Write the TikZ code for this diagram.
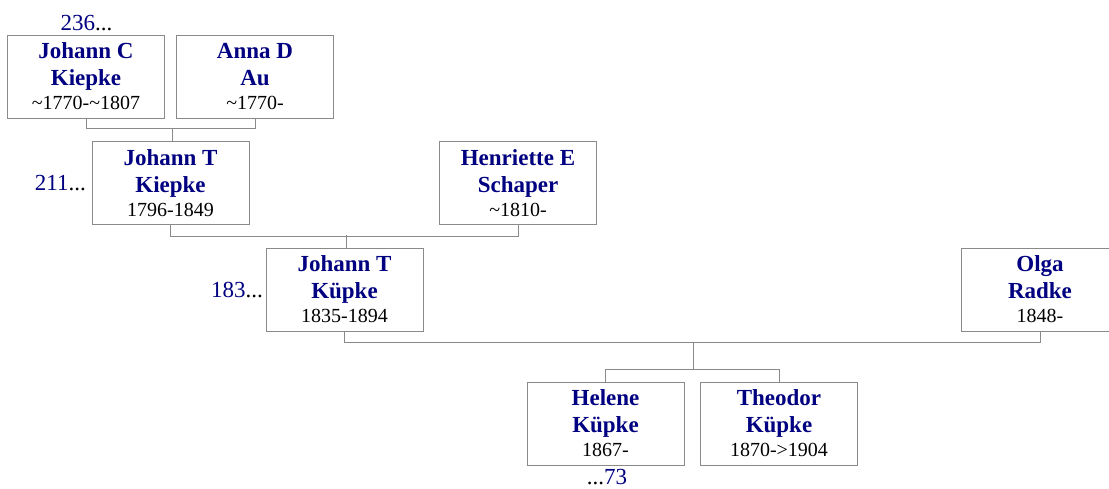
\documentclass[tikz,border=0pt]{standalone}
\usepackage{fontspec}
\usepackage{xcolor}
\usepackage{tikz}
\setmainfont{Liberation Serif}
\definecolor{navy}{HTML}{000080}
\definecolor{boxgray}{HTML}{8A8A8A}
\newcommand{\namefont}{\fontsize{23}{27}\selectfont\bfseries}
\newcommand{\datefont}{\fontsize{20}{24}\selectfont\mdseries}
\newcommand{\person}[3]{\textcolor{navy}{#1}\\\textcolor{navy}{#2}\\[-3pt]{\datefont #3}}
\tikzset{
    person/.style={draw=boxgray, line width=1pt, fill=white, minimum width=157pt, minimum height=83pt, inner sep=0pt, align=center, font=\namefont},
    link/.style={draw=boxgray, line width=1pt},
    refnum/.style={font=\fontsize{23}{27}\selectfont, inner sep=0pt}
}

\begin{document}
\begin{tikzpicture}[x=1pt, y=-1pt]

    \useasboundingbox (0, 0) rectangle (1109, 488);

    % generation 1
    \node[person] (jc) at (86, 76.5) {\person{Johann C}{Kiepke}{\textasciitilde1770-\textasciitilde1807}};
    \node[person] (ad) at (255, 76.5) {\person{Anna D}{Au}{\textasciitilde1770-}};
    \node[refnum, anchor=base] (n236) at (86.5, 30) {\textcolor{navy}{236}...};

    % generation 2
    \node[person] (jtk) at (170.5, 183) {\person{Johann T}{Kiepke}{1796-1849}};
    \node[person] (he) at (518, 183) {\person{Henriette E}{Schaper}{\textasciitilde1810-}};
    \node[refnum, anchor=base east] (n211) at (86, 190) {\textcolor{navy}{211}...};

    % generation 3
    \node[person] (jtkp) at (344.5, 289.5) {\person{Johann T}{Küpke}{1835-1894}};
    \node[person] (or) at (1040, 289.5) {\person{Olga}{Radke}{1848-}};
    \node[refnum, anchor=base east] (n183) at (263, 297) {\textcolor{navy}{183}...};

    % children
    \node[person] (hk) at (605.5, 423.5) {\person{Helene}{Küpke}{1867-}};
    \node[person] (tk) at (779, 423.5) {\person{Theodor}{Küpke}{1870->1904}};
    \node[refnum, anchor=base] (n73) at (607, 484) {...\textcolor{navy}{73}};

    % couples and descent
    \coordinate (m1) at (172, 128);
    \draw[link] (jc.south) -- ++(0, 10) -| (ad.south);
    \draw[link] (m1) -- (m1 |- jtk.north);

    \coordinate (m2) at (346, 235);
    \draw[link] (jtk.south) -- ++(0, 11) -| (he.south);
    \draw[link] (m2) -- (m2 |- jtkp.north);

    \coordinate (m3) at (693, 342);
    \coordinate (k3) at (693, 369);
    \draw[link] (jtkp.south) -- ++(0, 11) -| (or.south);
    \draw[link] (m3) -- (k3);
    \draw[link] (hk.north) -- (hk.north |- k3) -- (tk.north |- k3) -- (tk.north);

\end{tikzpicture}
\end{document}
